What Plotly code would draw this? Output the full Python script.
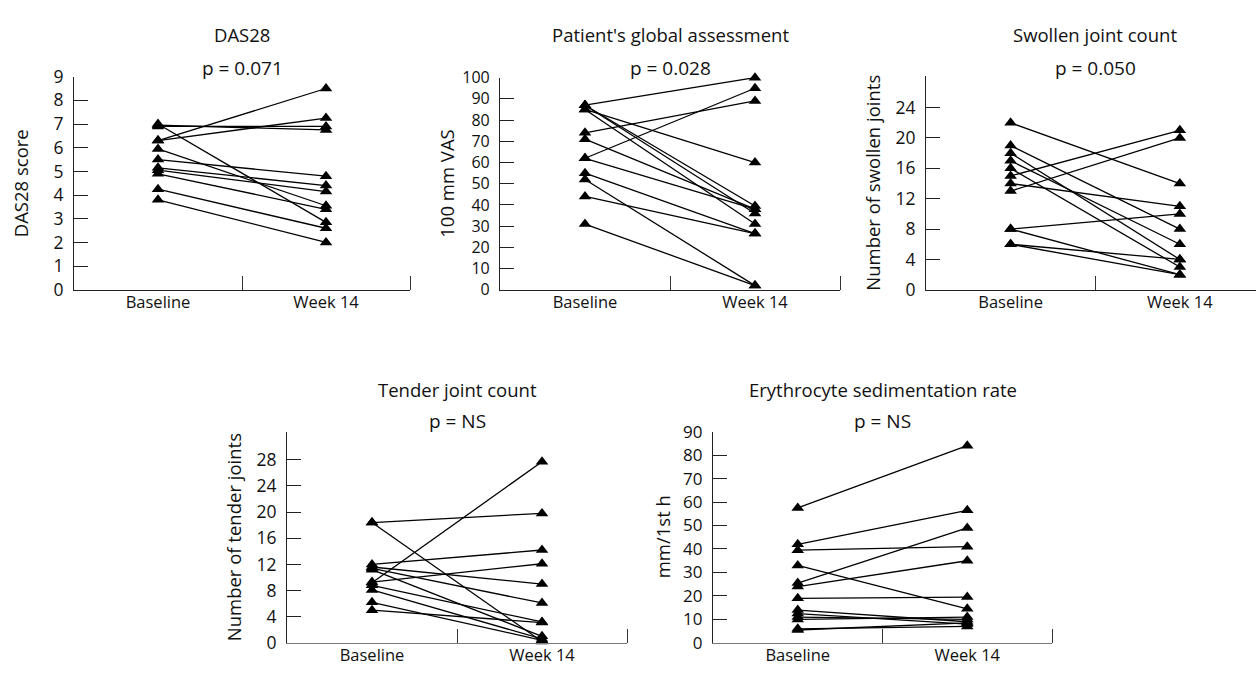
import plotly.graph_objects as go

# ---- data ----
timepoints = ["Baseline", "Week 14"]

das_baseline = [6.3, 6.3, 6.9, 6.95, 7.0, 5.95, 5.5, 5.15, 5.05, 4.9, 4.25, 3.8]
das_week14 = [8.5, 7.25, 6.9, 6.75, 2.85, 3.55, 4.8, 4.4, 4.15, 3.4, 2.6, 2.0]

vas_baseline = [87, 74, 62, 85, 87, 87, 85, 71, 62, 55, 44, 52, 31]
vas_week14 = [100, 89, 95, 60, 39.5, 36, 31, 38, 38, 26.5, 26.5, 2, 2]

swollen_baseline = [22, 15, 13, 14, 8, 19, 17, 18, 6, 16, 8, 6]
swollen_week14 = [14, 21, 20, 11, 10, 8, 6, 4, 4, 3, 2, 2]

tender_baseline = [18.4, 18.4, 9.2, 12.0, 9.3, 11.6, 11.4, 11.2, 8.8, 8.1, 6.2, 5.0]
tender_week14 = [19.8, 0.2, 27.7, 14.2, 12.1, 9.0, 6.1, 1.0, 3.2, 0.6, 0.4, 3.1]

esr_baseline = [57.5, 42, 39.5, 33, 25.5, 24, 19, 14, 12.5, 11, 10, 6, 5.5]
esr_week14 = [84, 56.5, 41, 14.5, 49, 35, 19.5, 9, 8, 10, 11, 7, 8.5]

panels = [
    dict(title="DAS28", p="p = 0.071", ytitle="DAS28 score",
         base=das_baseline, wk=das_week14, ticks=list(range(0, 10)), top=9),
    dict(title="Patient's global assessment", p="p = 0.028", ytitle="100 mm VAS",
         base=vas_baseline, wk=vas_week14, ticks=list(range(0, 101, 10)), top=100),
    dict(title="Swollen joint count", p="p = 0.050", ytitle="Number of swollen joints",
         base=swollen_baseline, wk=swollen_week14, ticks=list(range(0, 25, 4)), top=28.2),
    dict(title="Tender joint count", p="p = NS", ytitle="Number of tender joints",
         base=tender_baseline, wk=tender_week14, ticks=list(range(0, 29, 4)), top=32.3),
    dict(title="Erythrocyte sedimentation rate", p="p = NS", ytitle="mm/1st h",
         base=esr_baseline, wk=esr_week14, ticks=list(range(0, 91, 10)), top=90),
]

# ---- layout geometry (pixels in a 1256x678 canvas) ----
W, H = 1256, 678
geom = [
    dict(xd=(74, 410), yd=(66, 287), xend=1.5, ty=22, py=57, ytx=20, xl="#222", tf=17.5),
    dict(xd=(500, 840), yd=(67, 287), xend=1.5, ty=22, py=57, ytx=447, xl="#222", tf=16),
    dict(xd=(926, 1256), yd=(65, 287), xend=1.45, ty=22, py=57, ytx=873, xl="#222", tf=17.5),
    dict(xd=(287, 627), yd=(434, 653), xend=1.5, ty=390, py=423, ytx=233, xl="#7a7a7a", tf=17.5),
    dict(xd=(713, 1052), yd=(434, 653), xend=1.5, ty=390, py=423, ytx=662, xl="#7a7a7a", tf=17),
]

FONT = "Open Sans"
fig = go.Figure()
annotations = []

for i, (pn, g) in enumerate(zip(panels, geom), start=1):
    xs, ys = [], []
    for b, w in zip(pn["base"], pn["wk"]):
        xs += [0, 1, None]
        ys += [b, w, None]
    suffix = "" if i == 1 else str(i)
    fig.add_trace(go.Scatter(
        x=xs, y=ys, mode="lines+markers",
        line=dict(color="black", width=1.3),
        marker=dict(symbol="triangle-up", size=11, color="black"),
        xaxis="x" + suffix, yaxis="y" + suffix,
        showlegend=False, cliponaxis=False, hoverinfo="skip",
    ))
    xd = [g["xd"][0] / W, g["xd"][1] / W]
    yd = [1 - g["yd"][1] / H, 1 - g["yd"][0] / H]
    fig.layout["xaxis" + suffix] = dict(
        domain=xd, range=[-0.5, g["xend"]], anchor="y" + suffix,
        showline=True, linecolor=g["xl"], linewidth=1.2,
        tickmode="array", tickvals=[0, 1], ticktext=timepoints, ticks="",
        minor=dict(tickmode="array", tickvals=[0.5, 1.5], ticks="inside",
                   ticklen=14, tickcolor="#333", tickwidth=1),
        ticklabelstandoff=-3,
        showgrid=False, zeroline=False, fixedrange=True,
        tickfont=dict(family=FONT, size=16.5, color="#111"),
    )
    fig.layout["yaxis" + suffix] = dict(
        domain=yd, range=[0, pn["top"]], anchor="x" + suffix,
        showline=True, linecolor="#222", linewidth=1.2,
        tickmode="array", tickvals=pn["ticks"], ticks="inside",
        ticklen=14, tickcolor="#222", tickwidth=1,
        ticklabelstandoff=6,
        showgrid=False, zeroline=False, fixedrange=True,
        tickfont=dict(family=FONT, size=g["tf"], color="#111"),
    )
    xref = "x" + suffix
    annotations.append(dict(text=pn["title"], xref=xref, x=0.5, yref="paper",
                            y=1 - g["ty"] / H, yanchor="middle", showarrow=False,
                            font=dict(family=FONT, size=18.5, color="#111")))
    annotations.append(dict(text=pn["p"], xref=xref, x=0.5, yref="paper",
                            y=1 - g["py"] / H, yanchor="middle", showarrow=False,
                            font=dict(family=FONT, size=19, color="#111")))
    annotations.append(dict(text=pn["ytitle"], xref="paper", x=g["ytx"] / W,
                            yref="paper", y=1 - (g["yd"][0] + g["yd"][1]) / 2 / H,
                            xanchor="center", yanchor="middle", textangle=-90,
                            showarrow=False,
                            font=dict(family=FONT, size=18.5, color="#111")))

fig.update_layout(
    autosize=True,
    margin=dict(l=0, r=0, t=0, b=0),
    paper_bgcolor="white", plot_bgcolor="white",
    annotations=annotations,
    font=dict(family=FONT, color="#111"),
)

fig.write_html("out.html", default_width="100vw", default_height="100vh",
               config={"displayModeBar": False},
               post_script="document.body.style.margin='0';document.body.style.overflow='hidden';")
